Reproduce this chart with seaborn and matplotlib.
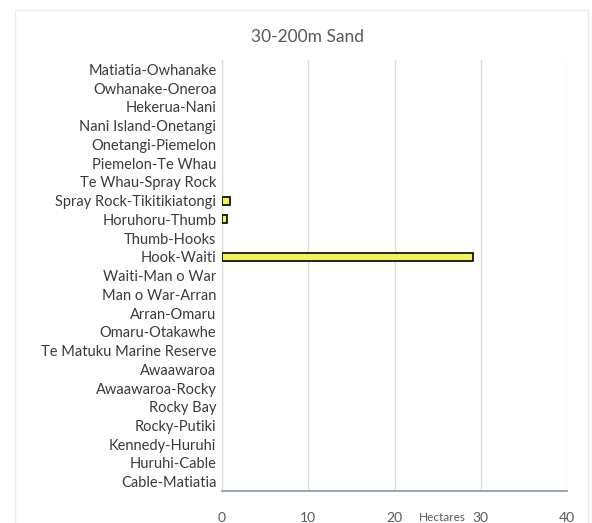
import numpy as np
import pandas as pd
import matplotlib.pyplot as plt
import seaborn as sns

# segments, top to bottom as shown
segments = [
    "Matiatia-Owhanake", "Owhanake-Oneroa", "Hekerua-Nani", "Nani Island-Onetangi",
    "Onetangi-Piemelon", "Piemelon-Te Whau", "Te Whau-Spray Rock",
    "Spray Rock-Tikitikiatongi", "Horuhoru-Thumb", "Thumb-Hooks", "Hook-Waiti",
    "Waiti-Man o War", "Man o War-Arran", "Arran-Omaru", "Omaru-Otakawhe",
    "Te Matuku Marine Reserve", "Awaawaroa", "Awaawaroa-Rocky", "Rocky Bay",
    "Rocky-Putiki", "Kennedy-Huruhi", "Huruhi-Cable", "Cable-Matiatia",
]
hectares = [0, 0, 0, 0, 0, 0, 0, 0.9, 0.6, 0, 29.1, 0, 0, 0, 0, 0, 0, 0, 0, 0, 0, 0, 0]

df = pd.DataFrame({"segment": segments, "hectares": hectares})

sns.set_style("whitegrid")
plt.rcParams['font.family'] = ['Lato', 'DejaVu Sans']

fig = plt.figure(figsize=(5.92, 5.23), dpi=100)
ax = fig.add_axes([0.375, 0.061, 0.583, 0.824])

sns.barplot(data=df, y="segment", x="hectares", order=segments, orient="h",
            color="#f2f25a", saturation=1, edgecolor="black", linewidth=1.2,
            width=0.42, ax=ax)

# empty segments get no outline
for p in ax.patches:
    if p.get_width() == 0:
        p.set_visible(False)

ax.set_xlim(0, 40)
ax.set_xticks([0, 10, 20, 30, 40])
ax.set_ylim(len(segments) - 0.5, -0.5)
ax.grid(axis="x", color="#dedede", linewidth=1)
ax.grid(axis="y", visible=False)
ax.axvline(0, color="#dedede", linewidth=1, clip_on=False, zorder=0)
for side in ["top", "right", "left"]:
    ax.spines[side].set_visible(False)
ax.spines["bottom"].set_color("#8497b0")
ax.spines["bottom"].set_linewidth(1.2)
ax.tick_params(axis="x", colors="#595959", labelsize=10, length=3, pad=12)
ax.tick_params(axis="x", color="#8497b0")
ax.tick_params(axis="y", colors="#3a3a3a", labelsize=10.5, length=0, pad=4)
ax.set_xlabel("")
ax.set_ylabel("")
ax.text(25.5, -0.048, "Hectares", transform=ax.get_xaxis_transform(),
        ha="center", va="top", fontsize=8.5, color="#595959")

fig.suptitle("30-200m Sand", x=0.52, y=0.945, fontsize=12.5, color="#595959")

# faint chart frame, bottom edge runs off the image
fig.patches.append(plt.Rectangle((0.025, -0.05), 0.968, 1.031, transform=fig.transFigure,
                                 fill=False, edgecolor="#ececec", linewidth=1))

plt.savefig("out.png", dpi=100)
plt.close()
